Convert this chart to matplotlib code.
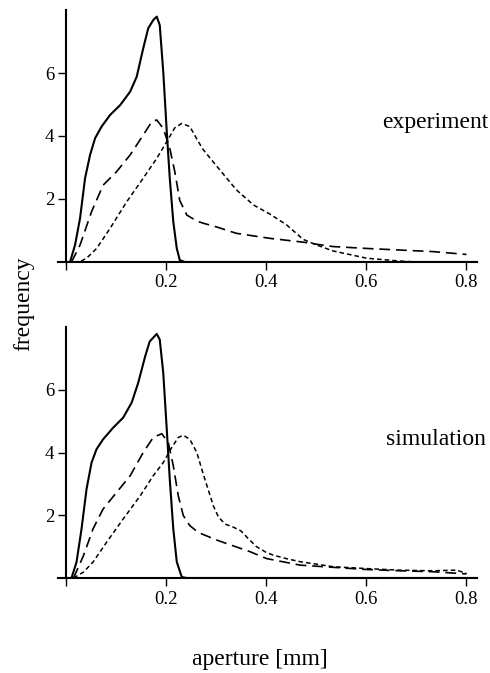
import matplotlib
matplotlib.use("Agg")
import matplotlib.pyplot as plt

plt.rcParams['font.family'] = ['Liberation Serif', 'DejaVu Serif']

# ---- data ----
# experiment panel
exp_solid_x = [0.0, 0.009, 0.019, 0.029, 0.039, 0.049, 0.059, 0.072, 0.089, 0.109, 0.129, 0.142,
               0.155, 0.165, 0.175, 0.182, 0.188, 0.195, 0.202, 0.208, 0.215, 0.222, 0.228, 0.238, 0.82]
exp_solid_y = [0.0, 0.0, 0.54, 1.39, 2.66, 3.40, 3.93, 4.30, 4.67, 4.98, 5.41, 5.88,
               6.78, 7.42, 7.68, 7.79, 7.52, 6.04, 4.14, 2.66, 1.28, 0.43, 0.06, 0.0, 0.0]

exp_long_x = [0.012, 0.029, 0.052, 0.075, 0.102, 0.129, 0.155, 0.172, 0.182, 0.195, 0.208, 0.218,
              0.228, 0.242, 0.262, 0.275, 0.300, 0.341, 0.408, 0.474, 0.507, 0.534, 0.601, 0.667,
              0.733, 0.800]
exp_long_y = [0.0, 0.54, 1.60, 2.44, 2.87, 3.40, 4.03, 4.45, 4.51, 4.24, 3.61, 2.87,
              1.95, 1.49, 1.30, 1.23, 1.12, 0.91, 0.75, 0.63, 0.55, 0.49, 0.43, 0.38,
              0.33, 0.24]

exp_short_x = [0.016, 0.030, 0.042, 0.062, 0.089, 0.122, 0.155, 0.182, 0.202, 0.218, 0.232, 0.248,
               0.265, 0.275, 0.308, 0.341, 0.375, 0.408, 0.441, 0.474, 0.501, 0.534, 0.601, 0.667,
               0.700, 0.800]
exp_short_y = [0.0, 0.02, 0.12, 0.43, 1.07, 1.91, 2.66, 3.29, 3.82, 4.26, 4.40, 4.30,
               3.82, 3.56, 2.92, 2.29, 1.81, 1.52, 1.18, 0.72, 0.54, 0.35, 0.12, 0.03,
               0.0, 0.0]

# simulation panel
sim_solid_x = [0.0, 0.012, 0.022, 0.032, 0.042, 0.052, 0.062, 0.075, 0.095, 0.115, 0.132, 0.145,
               0.159, 0.168, 0.182, 0.188, 0.195, 0.202, 0.208, 0.215, 0.222, 0.232, 0.242, 0.82]
sim_solid_y = [0.0, 0.0, 0.51, 1.57, 2.84, 3.68, 4.11, 4.42, 4.79, 5.11, 5.59, 6.22,
               7.07, 7.54, 7.78, 7.60, 6.54, 4.74, 3.15, 1.57, 0.51, 0.03, 0.0, 0.0]

sim_long_x = [0.016, 0.036, 0.055, 0.075, 0.102, 0.129, 0.155, 0.175, 0.192, 0.205, 0.215, 0.225,
              0.235, 0.248, 0.265, 0.300, 0.321, 0.368, 0.401, 0.468, 0.534, 0.601, 0.667,
              0.733, 0.800]
sim_long_y = [0.0, 0.72, 1.57, 2.20, 2.73, 3.26, 4.00, 4.48, 4.60, 4.32, 3.58, 2.62,
              1.99, 1.67, 1.45, 1.22, 1.10, 0.84, 0.62, 0.41, 0.34, 0.27, 0.23,
              0.20, 0.13]

sim_short_x = [0.016, 0.036, 0.055, 0.082, 0.115, 0.149, 0.175, 0.195, 0.212, 0.225, 0.235, 0.248,
               0.262, 0.275, 0.285, 0.295, 0.305, 0.318, 0.335, 0.350, 0.365, 0.381, 0.400, 0.414,
               0.440, 0.468, 0.534, 0.601, 0.667, 0.733, 0.780, 0.800]
sim_short_y = [0.0, 0.19, 0.51, 1.14, 1.88, 2.62, 3.26, 3.68, 4.16, 4.48, 4.55, 4.42,
               4.00, 3.30, 2.80, 2.30, 1.95, 1.72, 1.62, 1.50, 1.25, 1.00, 0.82, 0.73,
               0.62, 0.52, 0.36, 0.30, 0.25, 0.23, 0.25, 0.15]

xticks = [0.2, 0.4, 0.6, 0.8]
xticklabels = ['0.2', '0.4', '0.6', '0.8']
yticks = [2, 4, 6]
yticklabels = ['2', '4', '6']
panel_labels = ['experiment', 'simulation']

W, H = 490, 673
fig = plt.figure(figsize=(W / 100, H / 100), dpi=100)

def fx(px):
    return px / W

def fy(py):
    return 1 - py / H

panels = [
    (262, 10, (exp_solid_x, exp_solid_y), (exp_long_x, exp_long_y), (exp_short_x, exp_short_y)),
    (578, 327, (sim_solid_x, sim_solid_y), (sim_long_x, sim_long_y), (sim_short_x, sim_short_y)),
]

for i, (pbot, ptop, solid, longd, shortd) in enumerate(panels):
    ax = fig.add_axes([fx(58), fy(pbot), fx(477) - fx(58), fy(ptop) - fy(pbot)])
    ax.plot(solid[0], solid[1], color='black', lw=1.5, solid_joinstyle='round')
    ax.plot(longd[0], longd[1], color='black', lw=1.2, dashes=(6.5, 3.5))
    ax.plot(shortd[0], shortd[1], color='black', lw=1.1, dashes=(3, 2))
    ax.set_xlim(-0.015, 0.821)
    ax.set_ylim(0, 8)
    for s in ['top', 'right']:
        ax.spines[s].set_visible(False)
    ax.spines['left'].set_position(('data', 0))
    ax.spines['left'].set_linewidth(1.5)
    ax.spines['bottom'].set_linewidth(1.5)
    ax.set_xticks([0.0] + xticks)
    ax.set_xticklabels([''] + xticklabels)
    ax.set_yticks(yticks)
    ax.set_yticklabels(yticklabels)
    ax.tick_params(axis='both', direction='out', length=6, width=1.0, labelsize=13.5, pad=2)
    ax.tick_params(axis='x', pad=3)

fig.text(fx(488), fy(128), panel_labels[0], ha='right', va='baseline', fontsize=17)
fig.text(fx(486), fy(445), panel_labels[1], ha='right', va='baseline', fontsize=17)
fig.text(fx(260), fy(665), 'aperture [mm]', ha='center', va='baseline', fontsize=17)
fig.text(fx(24), fy(304), 'frequency', ha='center', va='center', rotation=90, fontsize=17)

fig.savefig('out.png', dpi=100)
